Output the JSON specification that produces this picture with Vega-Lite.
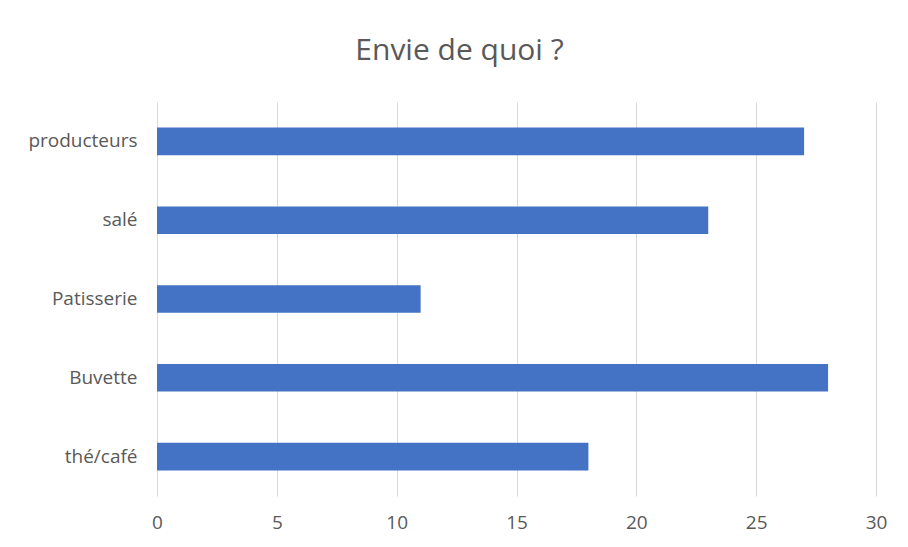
{
  "$schema": "https://vega.github.io/schema/vega-lite/v6.json",
  "autosize": "none",
  "width": 719,
  "height": 394,
  "padding": {"left": 157, "top": 102, "right": 32, "bottom": 51},
  "background": "white",
  "title": {
    "text": "Envie de quoi ?",
    "font": "Open Sans",
    "fontSize": 30,
    "fontWeight": "normal",
    "color": "#595959",
    "anchor": "middle",
    "dx": -57,
    "offset": 36
  },
  "data": {
    "values": [
      {"categorie": "producteurs", "valeur": 27},
      {"categorie": "salé", "valeur": 23},
      {"categorie": "Patisserie", "valeur": 11},
      {"categorie": "Buvette", "valeur": 28},
      {"categorie": "thé/café", "valeur": 18}
    ]
  },
  "mark": {"type": "bar", "color": "#4472C4"},
  "encoding": {
    "y": {
      "field": "categorie",
      "type": "nominal",
      "sort": null,
      "scale": {"paddingInner": 0.65, "paddingOuter": 0.325},
      "axis": {
        "title": null,
        "domain": false,
        "ticks": false,
        "labelPadding": 20,
        "labelFont": "Open Sans",
        "labelFontSize": 19,
        "labelColor": "#595959"
      }
    },
    "x": {
      "field": "valeur",
      "type": "quantitative",
      "scale": {"domain": [0, 30], "nice": false},
      "axis": {
        "title": null,
        "values": [0, 5, 10, 15, 20, 25, 30],
        "domain": false,
        "ticks": false,
        "grid": true,
        "gridColor": "#d9d9d9",
        "gridWidth": 1,
        "labelFlush": false,
        "labelPadding": 17,
        "labelFont": "Open Sans",
        "labelFontSize": 19,
        "labelColor": "#595959"
      }
    }
  },
  "config": {"view": {"stroke": null}}
}
